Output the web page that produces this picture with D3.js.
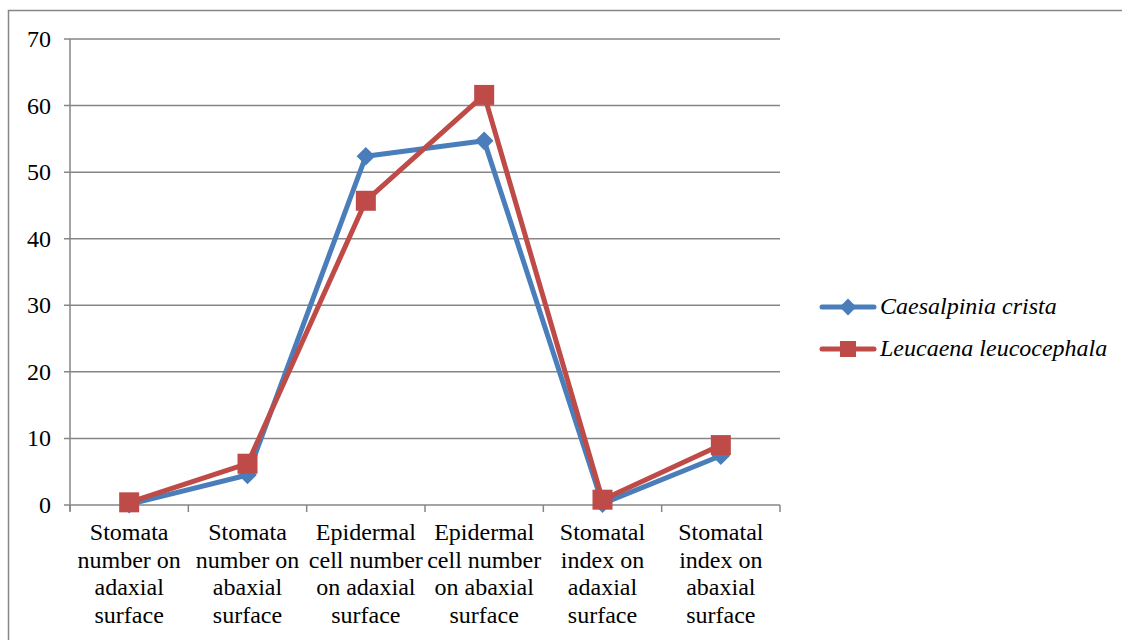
<!DOCTYPE html>
<html>
<head>
<meta charset="utf-8">
<script src="https://cdn.jsdelivr.net/npm/d3@7"></script>
<style>
  body { margin: 0; background: #fff; }
  svg { display: block; }
</style>
</head>
<body>
<div id="chart"></div>
<script>
// data
var categories = [
  ["Stomata", "number on", "adaxial", "surface"],
  ["Stomata", "number on", "abaxial", "surface"],
  ["Epidermal", "cell number", "on adaxial", "surface"],
  ["Epidermal", "cell number", "on abaxial", "surface"],
  ["Stomatal", "index on", "adaxial", "surface"],
  ["Stomatal", "index on", "abaxial", "surface"]
];
var caesalpinia = [0.1, 4.5, 52.4, 54.7, 0.2, 7.4];
var leucaena = [0.4, 6.2, 45.7, 61.6, 0.8, 9.0];
var seriesNames = ["Caesalpinia crista", "Leucaena leucocephala"];
var yTicks = [0, 10, 20, 30, 40, 50, 60, 70];

var width = 1122, height = 640;
var plot_left = 70, plot_right = 780, plot_top = 39, plot_bottom = 505;
var color_blue = "#4a7ebb";
var color_red = "#be4b48";
var color_grid = "#868686";
var font = "'Liberation Serif', 'Times New Roman', serif";
var fontsize = "24px";

var svg = d3.select("#chart").append("svg")
  .attr("width", width)
  .attr("height", height);

// outer chart border (runs off the right and bottom)
svg.append("rect")
  .attr("x", 8.5).attr("y", 10.5)
  .attr("width", 1200).attr("height", 700)
  .style("fill", "none")
  .style("stroke", color_grid)
  .style("stroke-width", 1.5);

var x_scale = d3.scaleBand()
  .domain(d3.range(categories.length))
  .range([plot_left, plot_right]);

var y_scale = d3.scaleLinear()
  .domain([0, 70])
  .range([plot_bottom, plot_top]);

// gridlines
svg.append("g")
  .selectAll("line")
  .data(yTicks)
  .join("line")
  .attr("x1", plot_left - 6).attr("x2", plot_right)
  .attr("y1", d => y_scale(d)).attr("y2", d => y_scale(d))
  .style("stroke", color_grid)
  .style("stroke-width", 1.5);

// y axis
svg.append("line")
  .attr("x1", plot_left).attr("x2", plot_left)
  .attr("y1", plot_top).attr("y2", plot_bottom + 6)
  .style("stroke", color_grid)
  .style("stroke-width", 1.5);

svg.append("g")
  .selectAll("text")
  .data(yTicks)
  .join("text")
  .attr("x", plot_left - 19)
  .attr("y", d => y_scale(d) + 8)
  .style("text-anchor", "end")
  .style("font-family", font)
  .style("font-size", fontsize)
  .text(d => d);

// x ticks
var xEdges = d3.range(categories.length + 1).map(i => plot_left + i * x_scale.bandwidth());
svg.append("g")
  .selectAll("line")
  .data(xEdges)
  .join("line")
  .attr("x1", d => d).attr("x2", d => d)
  .attr("y1", plot_bottom).attr("y2", plot_bottom + 7)
  .style("stroke", color_grid)
  .style("stroke-width", 1.5);

// category labels
categories.forEach(function(lines, i) {
  var t = svg.append("text")
    .attr("x", x_scale(i) + x_scale.bandwidth() / 2)
    .attr("y", 540)
    .style("text-anchor", "middle")
    .style("font-family", font)
    .style("font-size", fontsize);
  lines.forEach(function(l, j) {
    t.append("tspan")
      .attr("x", x_scale(i) + x_scale.bandwidth() / 2)
      .attr("dy", j == 0 ? 0 : 27.7)
      .text(l);
  });
});

var cx = i => x_scale(i) + x_scale.bandwidth() / 2;
var line = d3.line().x((d, i) => cx(i)).y(d => y_scale(d));

// blue series
svg.append("path")
  .datum(caesalpinia)
  .attr("d", line)
  .style("fill", "none")
  .style("stroke", color_blue)
  .style("stroke-width", 5)
  .style("stroke-linejoin", "round");

svg.append("g")
  .selectAll("path")
  .data(caesalpinia)
  .join("path")
  .attr("transform", (d, i) => "translate(" + cx(i) + "," + y_scale(d) + ")")
  .attr("d", d3.symbol(d3.symbolDiamond2, 220))
  .style("fill", color_blue);

// red series
svg.append("path")
  .datum(leucaena)
  .attr("d", line)
  .style("fill", "none")
  .style("stroke", color_red)
  .style("stroke-width", 5)
  .style("stroke-linejoin", "round");

svg.append("g")
  .selectAll("rect")
  .data(leucaena)
  .join("rect")
  .attr("x", (d, i) => cx(i) - 10)
  .attr("y", d => y_scale(d) - 10)
  .attr("width", 20).attr("height", 20)
  .style("fill", color_red);

// legend
var key = svg.append("g");
var legendRows = [
  {name: seriesNames[0], color: color_blue, y: 307},
  {name: seriesNames[1], color: color_red, y: 349}
];
legendRows.forEach(function(r, i) {
  key.append("line")
    .attr("x1", 822).attr("x2", 874)
    .attr("y1", r.y).attr("y2", r.y)
    .style("stroke", r.color)
    .style("stroke-width", 5)
    .style("stroke-linecap", "round");
  if (i == 0) {
    key.append("path")
      .attr("transform", "translate(848," + r.y + ")")
      .attr("d", d3.symbol(d3.symbolDiamond2, 180))
      .style("fill", r.color);
  } else {
    key.append("rect")
      .attr("x", 840).attr("y", r.y - 8)
      .attr("width", 16).attr("height", 16)
      .style("fill", r.color);
  }
  key.append("text")
    .attr("x", 880)
    .attr("y", r.y + 7)
    .style("font-family", font)
    .style("font-size", fontsize)
    .style("font-style", "italic")
    .text(r.name);
});
</script>
</body>
</html>
